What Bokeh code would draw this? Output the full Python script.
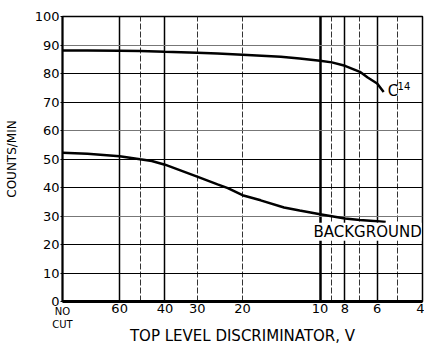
from bokeh.plotting import figure
from bokeh.models import Range1d, FixedTicker, Grid, Label, LogAxis
from bokeh.embed import file_html
from bokeh.resources import INLINE

# --- data ---
c14_volts = [100, 80, 60, 50, 40, 30, 25, 20, 14.2, 12, 10, 9, 8, 7, 6.53, 6, 5.66]
c14_counts = [88.1, 88.1, 88.0, 87.9, 87.6, 87.3, 87.0, 86.6, 85.9, 85.3, 84.5, 83.9, 82.7, 80.6, 78.6, 76.5, 73.5]

bg_volts = [100, 80, 60, 50, 45, 40, 30, 25, 22.8, 20, 17, 13.8, 12, 10, 8, 7, 6, 5.56]
bg_counts = [52.2, 51.8, 51.0, 49.9, 49.3, 48.0, 43.8, 41.1, 39.8, 37.3, 35.5, 33.0, 31.9, 30.6, 29.1, 28.6, 28.2, 27.9]

x_ticks = [60, 40, 30, 20, 10, 8, 6, 4]
x_tick_labels = ["60", "40", "30", "20", "10", "8", "6", "4"]
no_cut_tick = [100]
no_cut_label = "NO\nCUT"
y_ticks = [0, 10, 20, 30, 40, 50, 60, 70, 80, 90, 100]
solid_vlines = [60, 40, 8, 6]
heavy_vlines = [10]
dashed_vlines = [50, 30, 20, 9, 7, 5]
dark_hlines = [10, 20, 40, 50, 70, 80]
light_hlines = [30, 60, 90]

FONT = "DejaVu Sans"

p = figure(width=424, height=347, x_axis_type="log",
           x_range=Range1d(100, 4), y_range=Range1d(0, 100),
           output_backend="svg", toolbar_location=None,
           min_border_left=62, min_border_right=2, min_border_top=16, min_border_bottom=45)

p.background_fill_color = "white"
p.border_fill_color = "white"
p.outline_line_color = "black"
p.outline_line_width = 1.5
p.xgrid.visible = False
p.ygrid.visible = False

p.add_layout(Grid(dimension=0, ticker=FixedTicker(ticks=solid_vlines),
                  grid_line_color="black", grid_line_width=1.5))
p.add_layout(Grid(dimension=0, ticker=FixedTicker(ticks=heavy_vlines),
                  grid_line_color="black", grid_line_width=2.5))
p.add_layout(Grid(dimension=0, ticker=FixedTicker(ticks=dashed_vlines),
                  grid_line_color="#333333", grid_line_width=1, grid_line_dash="6 2"))
p.add_layout(Grid(dimension=1, ticker=FixedTicker(ticks=dark_hlines),
                  grid_line_color="black", grid_line_width=1))
p.add_layout(Grid(dimension=1, ticker=FixedTicker(ticks=light_hlines),
                  grid_line_color="#777777", grid_line_width=1))

p.line(c14_volts, c14_counts, line_color="black", line_width=2.5)
p.line(bg_volts, bg_counts, line_color="black", line_width=2.5)

# main x axis (numbers only)
p.xaxis.ticker = FixedTicker(ticks=x_ticks)
p.xaxis.major_label_overrides = {t: s for t, s in zip(x_ticks, x_tick_labels)}
p.xaxis.minor_tick_line_color = None
p.xaxis.major_tick_out = 0
p.xaxis.major_tick_in = 0
p.xaxis.axis_line_width = 3
p.xaxis.axis_line_color = "black"
p.xaxis.major_label_text_font = FONT
p.xaxis.major_label_text_font_size = "13px"
p.xaxis.major_label_text_color = "black"
p.xaxis.major_label_standoff = 2

# second x axis: "NO CUT" label (lifted next to the numbers) and the axis title
nc_axis = LogAxis(ticker=FixedTicker(ticks=no_cut_tick),
                  major_label_overrides={no_cut_tick[0]: no_cut_label})
nc_axis.axis_line_color = None
nc_axis.major_tick_line_color = None
nc_axis.minor_tick_line_color = None
nc_axis.major_tick_out = 0
nc_axis.major_tick_in = 0
nc_axis.major_label_text_font = FONT
nc_axis.major_label_text_font_size = "10px"
nc_axis.major_label_text_color = "black"
nc_axis.major_label_standoff = -10
nc_axis.axis_label = "TOP LEVEL DISCRIMINATOR, V"
nc_axis.axis_label_text_font = FONT
nc_axis.axis_label_text_font_size = "15px"
nc_axis.axis_label_text_font_style = "normal"
nc_axis.axis_label_text_color = "black"
nc_axis.axis_label_standoff = -6
p.add_layout(nc_axis, "below")

# y axis
p.yaxis.ticker = FixedTicker(ticks=y_ticks)
p.yaxis.minor_tick_line_color = None
p.yaxis.major_tick_out = 2
p.yaxis.major_tick_in = 0
p.yaxis.axis_line_width = 2
p.yaxis.axis_line_color = "black"
p.yaxis.major_label_text_font = FONT
p.yaxis.major_label_text_font_size = "13px"
p.yaxis.major_label_text_color = "black"
p.yaxis.major_label_standoff = 1
p.yaxis.axis_label = "COUNTS/MIN"
p.yaxis.axis_label_text_font = FONT
p.yaxis.axis_label_text_font_size = "12px"
p.yaxis.axis_label_text_font_style = "normal"
p.yaxis.axis_label_text_color = "black"
p.yaxis.axis_label_standoff = 13

# annotations
p.add_layout(Label(x=10.6, y=24.5, text="BACKGROUND", text_font=FONT,
                   text_font_size="15px", text_align="left", text_baseline="middle",
                   text_color="black", background_fill_color="white"))
p.add_layout(Label(x=5.46, y=73.8, text="C", text_font=FONT,
                   text_font_size="15px", text_align="left", text_baseline="middle",
                   text_color="black"))
p.add_layout(Label(x=5.0, y=75.7, text="14", text_font=FONT,
                   text_font_size="10px", text_align="left", text_baseline="middle",
                   text_color="black"))

open("out.html", "w").write(file_html(p, INLINE))
